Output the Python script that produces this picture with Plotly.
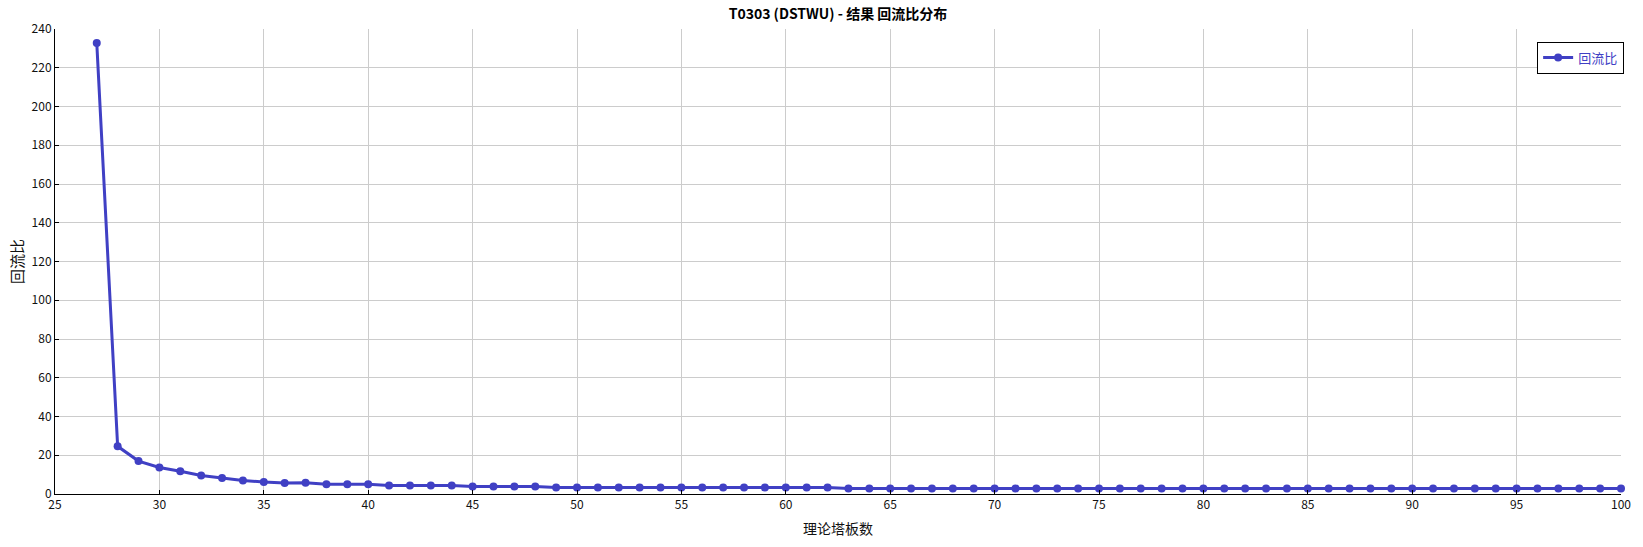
import plotly.graph_objects as go

stages = list(range(27, 101))
reflux = [
    232.8, 24.6, 17.0, 13.7, 11.7, 9.6, 8.2, 7.0, 6.2, 5.7,
    5.8, 5.0, 5.0, 5.0, 4.4, 4.4, 4.4, 4.4, 3.9, 3.9,
    3.9, 3.9, 3.4, 3.4, 3.4, 3.4, 3.4, 3.4, 3.4, 3.4,
    3.4, 3.4, 3.4, 3.4, 3.4, 3.4, 2.9, 2.9, 2.9, 2.9,
    2.9, 2.9, 2.9, 2.9, 2.9, 2.9, 2.9, 2.9, 2.9, 2.9,
    2.9, 2.9, 2.9, 2.9, 2.9, 2.9, 2.9, 2.9, 2.9, 2.9,
    2.9, 2.9, 2.9, 2.9, 2.9, 2.9, 2.9, 2.9, 2.9, 2.9,
    2.9, 2.9, 2.9, 2.9,
]
x_ticks = list(range(25, 101, 5))
y_ticks = list(range(0, 241, 20))

color = "#4040C4"
font_family = "Noto Sans CJK SC, Noto Sans, sans-serif"

fig = go.Figure()
fig.add_trace(go.Scatter(
    x=stages, y=reflux, mode="lines+markers", name="回流比",
    line=dict(color=color, width=3),
    marker=dict(color=color, size=8),
    cliponaxis=False,
))

fig.update_layout(
    width=1643, height=547,
    margin=dict(l=55, r=22, t=29, b=53),
    paper_bgcolor="white", plot_bgcolor="white",
    font=dict(family=font_family, color="#111111", size=12),
    title=dict(text="<b>T0303 (DSTWU) - 结果 回流比分布</b>", x=0.5, xref="paper",
               xanchor="center", y=0.975, yanchor="middle",
               font=dict(size=14, color="#000000")),
    showlegend=True,
    legend=dict(x=1.002, y=0.973, xanchor="right", yanchor="top",
                bordercolor="#000000", borderwidth=1, bgcolor="white",
                font=dict(size=13, color=color), tracegroupgap=0),
)
fig.update_xaxes(
    range=[25, 100], tickvals=x_ticks, ticks="inside", ticklen=4,
    tickcolor="#000000", showline=True, linecolor="#000000", linewidth=1,
    showgrid=True, gridcolor="#CCCCCC", gridwidth=1, zeroline=False,
    tickfont=dict(size=12), automargin=False,
    title=dict(text="理论塔板数", font=dict(size=14), standoff=12),
)
fig.update_yaxes(
    range=[0, 240], tickvals=y_ticks, ticks="inside", ticklen=4,
    tickcolor="#000000", showline=True, linecolor="#000000", linewidth=1,
    showgrid=True, gridcolor="#CCCCCC", gridwidth=1, zeroline=False,
    tickfont=dict(size=12), automargin=False,
    title=dict(text="回流比", font=dict(size=15), standoff=4),
)

fig.write_html(
    "out.html",
    config={"displayModeBar": False},
    post_script="document.body.style.margin='0';document.body.style.overflow='hidden';",
)
